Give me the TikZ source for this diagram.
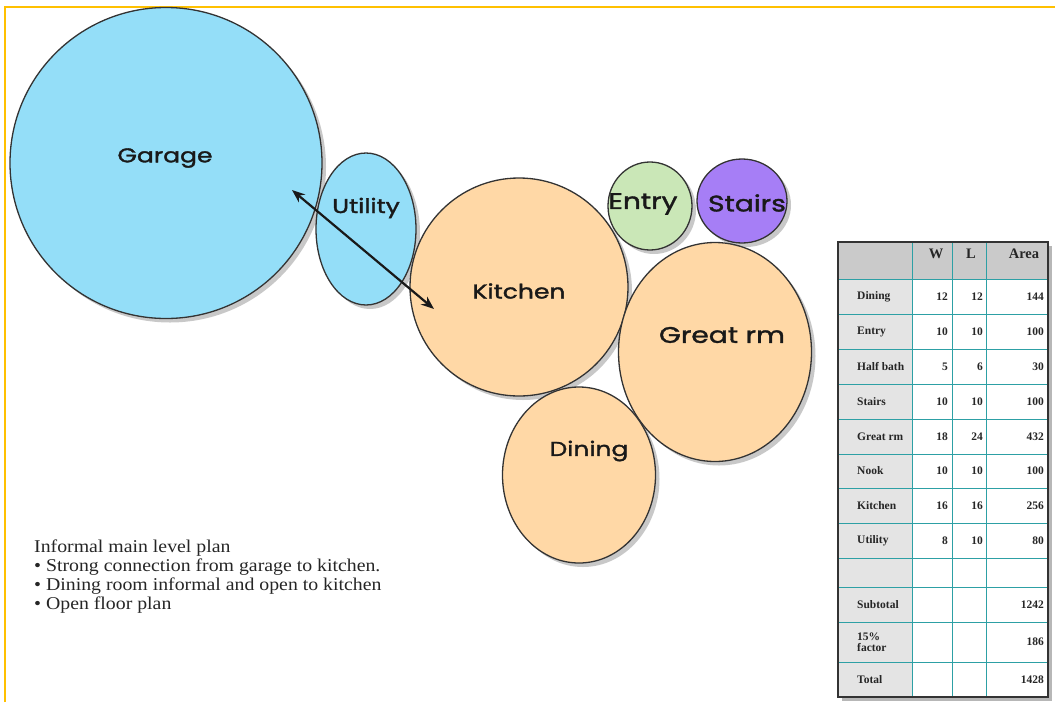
\documentclass[tikz,border=0pt]{standalone}
\usepackage{fontspec}
\setmainfont{Liberation Serif}
\newfontfamily\roomfont{Poppins}[FakeStretch=1.25,FakeBold=1.6]
\newfontfamily\capfont{Liberation Serif}[FakeStretch=1.1]
\usetikzlibrary{shapes.geometric,shadows,arrows.meta}
\definecolor{garageblue}{RGB}{148,222,248}
\definecolor{peach}{RGB}{255,216,166}
\definecolor{entrygreen}{RGB}{202,231,183}
\definecolor{stairpurple}{RGB}{166,126,246}
\definecolor{frameorange}{RGB}{255,192,0}
\definecolor{gridteal}{RGB}{45,160,165}
\definecolor{hdrgray}{RGB}{202,202,202}
\definecolor{lblgray}{RGB}{228,228,228}
\tikzset{
  room/.style={ellipse, draw=black!80, line width=1.3pt, inner sep=0pt,
    drop shadow={shadow xshift=4pt, shadow yshift=-4pt, opacity=0.3, fill=black!70}},
  roomlabel/.style={font=\roomfont\fontsize{20}{20}\selectfont, inner sep=0pt, text=black!90},
  bigroomlabel/.style={font=\roomfont\fontsize{22.5}{22}\selectfont, inner sep=0pt, text=black!90},
  cell/.style={font=\bfseries\fontsize{11.5}{12}\selectfont, inner sep=0pt, text=black!85},
  hdr/.style={font=\bfseries\fontsize{14.5}{15}\selectfont, inner sep=0pt, text=black!85},
  grid/.style={gridteal, line width=1pt},
}
\begin{document}
\begin{tikzpicture}[x=1pt,y=-1pt]
\fill[white] (0,0) rectangle (1055,702);
\useasboundingbox (0,0) rectangle (1055,702);
% frame
\draw[frameorange, line width=2pt] (5,702) -- (5,7) -- (1055,7);
% rooms
\node[room, fill=garageblue, minimum width=312pt, minimum height=311pt] (garage) at (166,163) {};
\node[room, fill=garageblue, minimum width=100pt, minimum height=152pt] (utility) at (366,229) {};
\node[room, fill=peach, minimum width=218pt, minimum height=218pt] (kitchen) at (519,287) {};
\node[room, fill=peach, minimum width=193pt, minimum height=219pt] (greatrm) at (715,352) {};
\node[room, fill=peach, minimum width=153pt, minimum height=176pt] (dining) at (579,475) {};
\node[room, fill=entrygreen, minimum width=84pt, minimum height=88pt] (entry) at (650,206) {};
\node[room, fill=stairpurple, minimum width=90pt, minimum height=84pt] (stairs) at (742,201) {};
% room labels
\node[roomlabel] (lgarage) at (165,158) {Garage};
\node[roomlabel] (lutility) at (366,208) {Utility};
\node[roomlabel] (lkitchen) at (519,291) {Kitchen};
\node[bigroomlabel] (lentry) at (643,204) {Entry};
\node[bigroomlabel] (lstairs) at (747,203) {Stairs};
\node[bigroomlabel] (lgreat) at (722,335) {Great rm};
\node[roomlabel] (ldining) at (589,451) {Dining};
% arrow
\coordinate (a1) at (292,190);
\coordinate (a2) at (434,309);
\draw[{Stealth[length=13pt,width=10pt]}-{Stealth[length=13pt,width=10pt]}, line width=2.2pt, black!90] (a1) -- (a2);
% caption
\node[anchor=north west, align=left, inner sep=0pt, font=\capfont\fontsize{18}{19}\selectfont, text=black!85] (caption) at (34,540)
{Informal main level plan\\
\textbullet\ Strong connection from garage to kitchen.\\
\textbullet\ Dining room informal and open to kitchen\\
\textbullet\ Open floor plan};
% table
\path[fill=white, drop shadow={shadow xshift=4pt, shadow yshift=-4pt, opacity=0.4, fill=black!70}] (838,242) rectangle (1048,697);
\fill[hdrgray] (838,242) rectangle (1048,279);
\fill[lblgray] (838,279) rectangle (912,697);
\foreach \yy in {279,314,349,384,419,454,488,523,558,587,622,662}
  \draw[grid] (838,\yy) -- (1048,\yy);
\foreach \xx in {912,952,986}
  \draw[grid] (\xx,242) -- (\xx,697);
\draw[black!80, line width=1.3pt] (838,242) rectangle (1048,697);
\node[hdr] (hw) at (936,254) {W};
\node[hdr] (hl) at (971,254) {L};
\node[hdr] (ha) at (1024,254) {Area};
\foreach \nm/\w/\l/\a/\yy in {Dining/12/12/144/296.5, Entry/10/10/100/331.5, Half bath/5/6/30/366.5, Stairs/10/10/100/401.5, Great rm/18/24/432/436.5, Nook/10/10/100/471, Kitchen/16/16/256/505.5, Utility/8/10/80/540.5}{
  \node[cell, anchor=west] at (857,\yy) {\nm};
  \node[cell, anchor=east] at (948,\yy) {\w};
  \node[cell, anchor=east] at (983,\yy) {\l};
  \node[cell, anchor=east] at (1044,\yy) {\a};
}
\node[cell, anchor=west] (subl) at (857,604.5) {Subtotal};
\node[cell, anchor=east] (subv) at (1044,604.5) {1242};
\node[cell, anchor=west, align=left, font=\bfseries\fontsize{11.5}{11}\selectfont] (facl) at (857,642) {15\%\\factor};
\node[cell, anchor=east] (facv) at (1044,642) {186};
\node[cell, anchor=west] (totl) at (857,679.5) {Total};
\node[cell, anchor=east] (totv) at (1044,679.5) {1428};
\end{tikzpicture}
\end{document}
